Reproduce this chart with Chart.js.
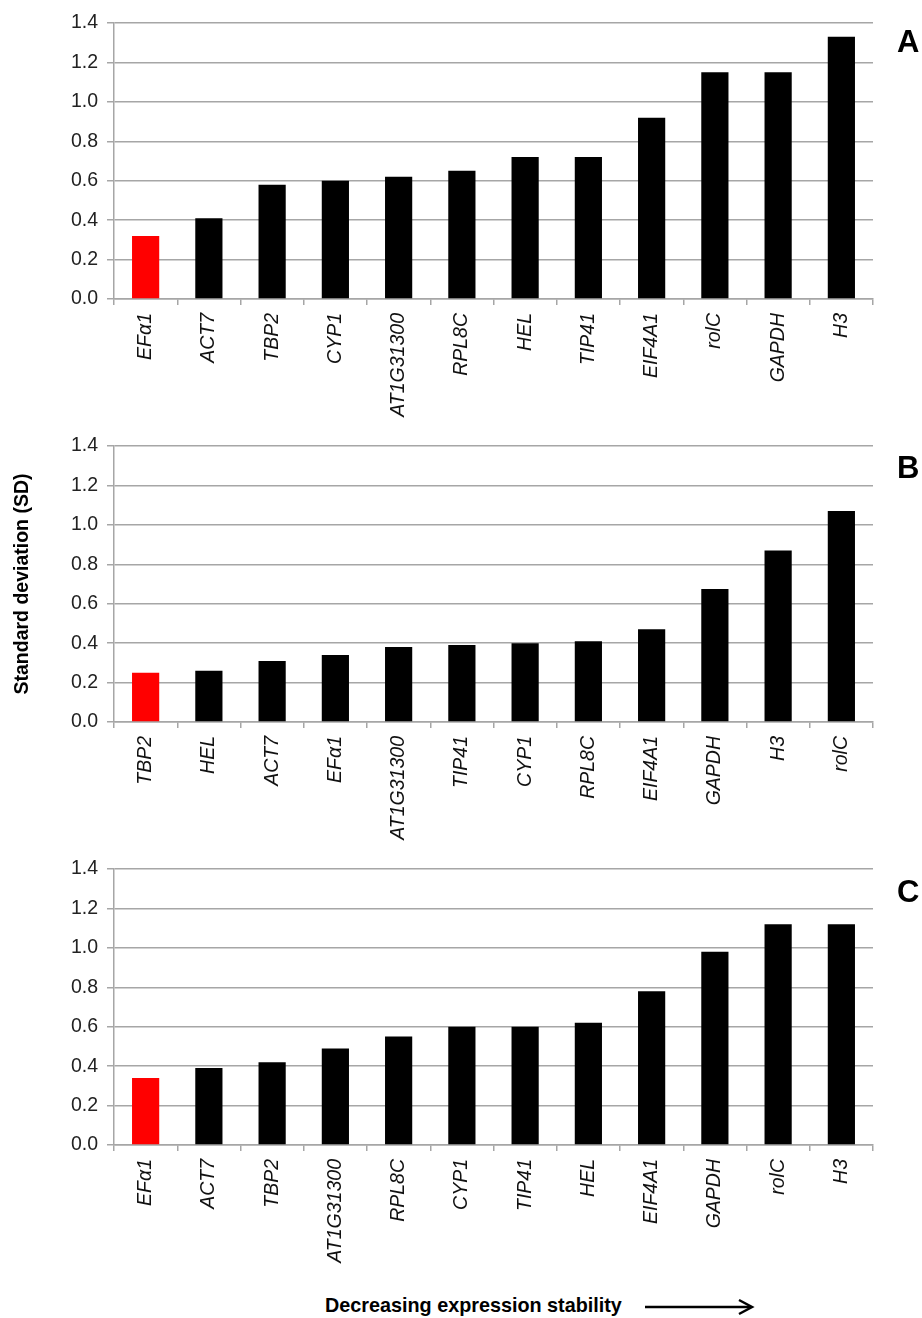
<!DOCTYPE html>
<html>
<head>
<meta charset="utf-8">
<script src="https://cdn.jsdelivr.net/npm/chart.js@4"></script>
<style>
  body { margin: 0; background: #fff; }
  #wrap { position: relative; width: 922px; height: 1318px; font-family: 'Liberation Sans', Arial, sans-serif; }
  canvas { position: absolute; left: 0; }
  .panel { position: absolute; left: 897px; font-weight: bold; font-size: 31px; color: #000; }
  #xlabel { position: absolute; left: 325px; top: 1294px; font-weight: bold; font-size: 19.8px; color: #000; white-space: nowrap; }
  #arrow { position: absolute; left: 643px; top: 1297px; }
</style>
</head>
<body>
<div id="wrap">
  <canvas id="chart-a" width="922" height="425" style="top:0px"></canvas>
  <canvas id="chart-b" width="922" height="425" style="top:423px"></canvas>
  <canvas id="chart-c" width="922" height="425" style="top:846px"></canvas>
  <div class="panel" style="top:24px">A</div>
  <div class="panel" style="top:450px">B</div>
  <div class="panel" style="top:874px">C</div>
  <div id="xlabel">Decreasing expression stability</div>
  <svg id="arrow" width="115" height="20">
    <line x1="2" y1="10" x2="108" y2="10" stroke="#000" stroke-width="2.5"/>
    <polyline points="96,3 109,10 96,17" fill="none" stroke="#000" stroke-width="2.5"/>
  </svg>
</div>
<script>
// ─── DATA ─────────────────────────────────────────────────────────────────
const catsA = ['EFα1', 'ACT7', 'TBP2', 'CYP1', 'AT1G31300', 'RPL8C', 'HEL', 'TIP41', 'EIF4A1', 'rolC', 'GAPDH', 'H3'];
const valsA = [0.32, 0.41, 0.58, 0.60, 0.62, 0.65, 0.72, 0.72, 0.92, 1.15, 1.15, 1.33];

const catsB = ['TBP2', 'HEL', 'ACT7', 'EFα1', 'AT1G31300', 'TIP41', 'CYP1', 'RPL8C', 'EIF4A1', 'GAPDH', 'H3', 'rolC'];
const valsB = [0.25, 0.26, 0.31, 0.34, 0.38, 0.39, 0.40, 0.41, 0.47, 0.675, 0.87, 1.07];

const catsC = ['EFα1', 'ACT7', 'TBP2', 'AT1G31300', 'RPL8C', 'CYP1', 'TIP41', 'HEL', 'EIF4A1', 'GAPDH', 'rolC', 'H3'];
const valsC = [0.34, 0.39, 0.42, 0.49, 0.55, 0.60, 0.60, 0.62, 0.78, 0.98, 1.12, 1.12];

const yTicks = [0, 0.2, 0.4, 0.6, 0.8, 1.0, 1.2, 1.4];
const yTitle = 'Standard deviation (SD)';

const FONT  = "'Liberation Sans', Arial, sans-serif";
const GRID  = '#a6a6a6';

// ─── one panel ───────────────────────────────────────────────────────────
function makeChart(id, cats, vals, title) {
  return new Chart(document.getElementById(id), {
    type: 'bar',
    data: {
      labels: cats,
      datasets: [{
        data: vals,
        backgroundColor: cats.map((c, i) => i === 0 ? '#ff0000' : '#000000'),
        borderWidth: 0,
        barPercentage: 0.43,
        categoryPercentage: 1,
      }],
    },
    options: {
      responsive: false,
      animation: false,
      layout: { padding: { top: 23, right: 49, left: 0, bottom: 0 } },
      plugins: { legend: { display: false }, tooltip: { enabled: false } },
      scales: {
        x: {
          afterFit: s => { s.height = 126; },
          border: { display: true, color: GRID, width: 1.5 },
          grid: { drawOnChartArea: false, drawTicks: true, tickLength: 6, color: GRID, lineWidth: 1.5, offset: true },
          ticks: {
            minRotation: 90, maxRotation: 90, padding: 8,
            color: '#111', font: { family: FONT, size: 19.5, style: 'italic' },
          },
        },
        y: {
          min: 0, max: 1.4,
          afterFit: s => { s.width = 114; },
          afterBuildTicks: s => { s.ticks = yTicks.map(v => ({ value: v })); },
          border: { display: true, color: GRID, width: 1.5 },
          grid: { color: GRID, lineWidth: 1.5, tickLength: 7 },
          ticks: {
            padding: 9, color: '#222',
            font: { family: FONT, size: 19.5 },
            callback: v => Number(v).toFixed(1),
          },
          title: {
            display: !!title, text: title || '',
            color: '#000', font: { family: FONT, size: 19.5, weight: 'bold' },
            padding: { top: 11, bottom: 0 },
          },
        },
      },
    },
  });
}

makeChart('chart-a', catsA, valsA, null);
makeChart('chart-b', catsB, valsB, yTitle);
makeChart('chart-c', catsC, valsC, null);
</script>
</body>
</html>
